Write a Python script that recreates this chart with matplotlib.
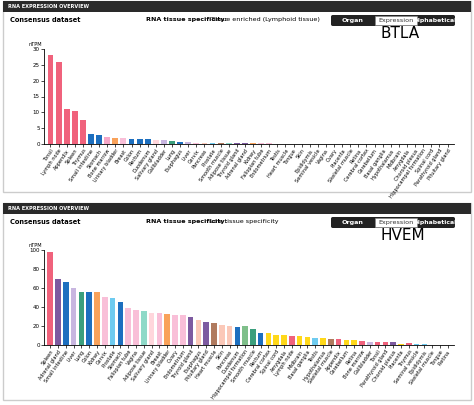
import matplotlib
matplotlib.use("Agg")
import matplotlib.pyplot as plt
from matplotlib.patches import Rectangle, FancyBboxPatch

LY="#f0627c"; GI="#1d6fbf"; BM="#f6a7c8"; BR="#ffd81a"; EN="#7d5aa0"; LV="#c8b6e0"
LU="#3b9f7d"; KD="#f9a25a"; FE="#f9bfd8"; MA="#6ecbf0"; MU="#b07a5e"; SK="#fbc8b8"; AD="#8fd9c8"; PR="#ffd6dc"

btla_tissues = ["Tonsil","Lymph node","Appendix","Spleen","Thymus","Small intestine","Stomach","Bone marrow",
 "Urinary bladder","Breast","Colon","Rectum","Duodenum","Salivary gland","Gallbladder","Lung","Esophagus","Liver",
 "Cervix","Pancreas","Prostate","Smooth muscle","Adipose tissue","Thyroid gland","Adrenal gland","Kidney",
 "Fallopian tube","Endometrium","Testis","Heart muscle","Tongue","Skin","Epididymis","Seminal vesicle","Vagina",
 "Ovary","Placenta","Skeletal muscle","Retina","Cerebral cortex","Cerebellum","Basal ganglia","Hypothalamus",
 "Midbrain","Amygdala","Choroid plexus","Hippocampal formation","Spinal cord","Parathyroid gland","Pituitary gland"]
btla_values = [28,25.8,11,10.5,7.5,3.1,3.0,2.2,2.0,1.9,1.7,1.7,1.6,1.4,1.2,0.9,0.5,0.5,0.4,0.3,0.3,0.3,0.3,0.3,0.2,
 0.2,0.2,0.2,0.1,0.1,0.1,0.1,0.1,0.1,0.1,0.1,0.1,0.1,0.1,0,0,0,0,0,0,0,0,0,0,0]
btla_colors = [LY,LY,LY,LY,LY,GI,GI,BM,KD,FE,GI,GI,GI,PR,LV,LU,GI,LV,FE,SK,MA,MU,AD,EN,EN,KD,FE,FE,MA,MU,GI,SK,
 MA,MA,FE,FE,FE,MU,"#999999",BR,BR,BR,BR,BR,BR,BR,BR,BR,EN,EN]

hvem_tissues = ["Spleen","Adrenal gland","Small intestine","Liver","Lung","Colon","Kidney","Cervix","Prostate",
 "Stomach","Fallopian tube","Vagina","Adipose tissue","Salivary gland","Breast","Urinary bladder","Ovary",
 "Endometrium","Thyroid gland","Esophagus","Pituitary gland","Heart muscle","Skin","Pancreas","Duodenum",
 "Hippocampal formation","Smooth muscle","Rectum","Cerebral cortex","Spinal cord","Amygdala","Lymph node",
 "Midbrain","Basal ganglia","Testis","Hypothalamus","Skeletal muscle","Appendix","Cerebellum","Retina",
 "Bone marrow","Gallbladder","Tonsil","Parathyroid gland","Choroid plexus","Placenta","Thymus","Seminal vesicle",
 "Epididymis","Skeletal muscle ","Tongue","Retina "]
hvem_values = [98,70,66,60,56,56,56,51,49,45,39,37,36,34,34,33,32,32,29,26,24,23,21,20,19,20,17,13,13,11,11,10,
 10,8,7,7,6,6,5,5,4,3.5,3,3,3,1.5,2,1.5,1,0.5,0.3,0.2]
hvem_colors = [LY,EN,GI,LV,LU,GI,KD,FE,MA,GI,FE,FE,AD,PR,FE,KD,FE,FE,EN,SK,EN,MU,SK,SK,GI,"#7fbf8a",LU,GI,BR,BR,
 BR,LY,BR,BR,MA,BR,MU,LY,BR,BR,LY,LV,LY,LY,EN,BR,LY,MA,MA,MU,MU,"#999999"]

W,H = 474,405
fig = plt.figure(figsize=(W/100,H/100),dpi=100)

def fx(p): return p/W
def fy(p): return 1-p/H

def panel(top, bot, title, spec, gene):
    fig.patches.append(Rectangle((fx(3),fy(bot)),fx(468),(bot-top)/H,transform=fig.transFigure,
        facecolor="white",edgecolor="#cccccc",lw=1,zorder=-5))
    fig.patches.append(Rectangle((fx(3),fy(top+11)),fx(468),11/H,transform=fig.transFigure,
        facecolor="#2a2a2a",edgecolor="none",zorder=-4))
    fig.text(fx(8),fy(top+5.5),title,color="white",fontsize=3.6,weight="bold",va="center")
    fig.text(fx(10),fy(top+19),"Consensus dataset",fontsize=4.8,weight="bold",va="center")
    fig.text(fx(146),fy(top+19),spec[0],fontsize=4.6,weight="bold",va="center")
    fig.text(fx(210),fy(top+19),spec[1],fontsize=4.6,va="center")
    fig.patches.append(FancyBboxPatch((fx(331),fy(top+25)),fx(124),11/H,boxstyle="round,pad=0,rounding_size=0.004",
        transform=fig.transFigure,facecolor="#222222",edgecolor="none",zorder=-4))
    fig.patches.append(Rectangle((fx(375),fy(top+24)),fx(42),9/H,transform=fig.transFigure,
        facecolor="white",edgecolor="#888888",lw=0.4,zorder=-3))
    fig.text(fx(353),fy(top+19.5),"Organ",fontsize=4.6,color="white",weight="bold",ha="center",va="center")
    fig.text(fx(396),fy(top+19.5),"Expression",fontsize=4.6,color="#333",ha="center",va="center")
    fig.text(fx(436),fy(top+19.5),"Alphabetical",fontsize=4.4,color="white",weight="bold",ha="center",va="center")
    fig.text(fx(380),fy(top+33),gene,fontsize=11,va="center")

def bars(ax, names, vals, cols, ymax, step):
    ax.set_facecolor("none")
    ax.set_zorder(5)
    x = range(len(names))
    ax.bar(x, vals, color=cols, width=0.72)
    ax.set_xlim(-0.8, len(names)-0.2)
    ax.set_ylim(0, ymax)
    ax.set_yticks(range(0, ymax+1, step))
    ax.set_xticks(list(x))
    ax.set_xticklabels(names, rotation=55, ha="right", rotation_mode="anchor", fontsize=3.6)
    ax.tick_params(axis="both", length=2, width=0.5, labelsize=3.6, pad=1)
    ax.tick_params(axis="y", labelsize=4)
    for s in ["top","right"]: ax.spines[s].set_visible(False)
    for s in ["left","bottom"]: ax.spines[s].set_linewidth(0.6)
    ax.text(-0.02, 1.03, "nTPM", transform=ax.transAxes, fontsize=3.6, ha="center")

panel(1,192,"RNA EXPRESSION OVERVIEW",("RNA tissue specificity: ","Tissue enriched (Lymphoid tissue)"),"BTLA")
panel(203,400,"RNA EXPRESSION OVERVIEW",("RNA tissue specificity: ","Low tissue specificity"),"HVEM")

ax1 = fig.add_axes([fx(44),fy(144),fx(410),(144-49)/H])
bars(ax1, btla_tissues, btla_values, btla_colors, 30, 5)
ax2 = fig.add_axes([fx(44),fy(345),fx(410),(345-250)/H])
bars(ax2, hvem_tissues, hvem_values, hvem_colors, 100, 20)

fig.savefig("out.png", dpi=100)
